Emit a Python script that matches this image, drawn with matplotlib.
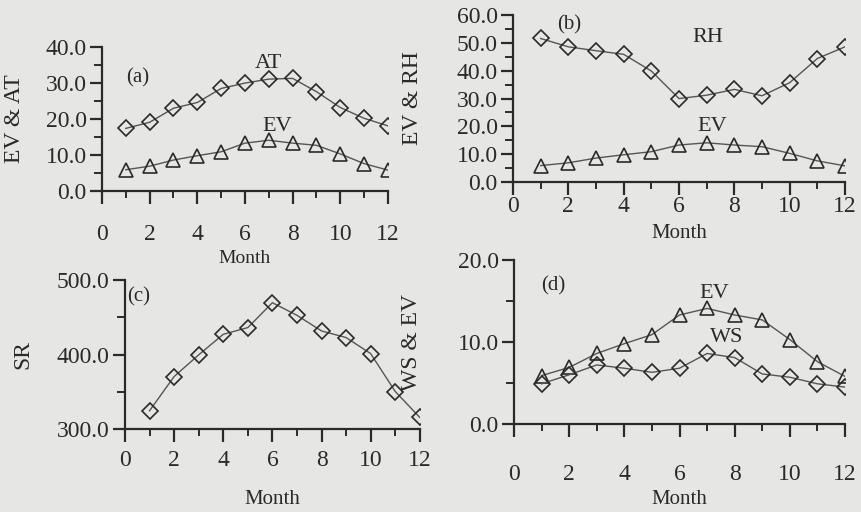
import matplotlib
matplotlib.use("Agg")
import matplotlib.pyplot as plt
from matplotlib.ticker import MultipleLocator, FormatStrFormatter

plt.rcParams['font.family'] = ['Liberation Serif', 'DejaVu Serif']

months = [1, 2, 3, 4, 5, 6, 7, 8, 9, 10, 11, 12]
ev = [5.9, 6.9, 8.6, 9.8, 10.9, 13.3, 14.1, 13.3, 12.7, 10.3, 7.6, 5.8]
at = [17.4, 19.1, 23.0, 24.6, 28.5, 30.0, 31.1, 31.3, 27.6, 23.2, 20.2, 18.1]
rh = [51.6, 48.6, 47.2, 45.9, 39.9, 30.0, 31.2, 33.3, 31.0, 35.7, 44.4, 48.6]
sr = [324.6, 370.5, 399.6, 427.2, 436.2, 469.6, 452.7, 431.7, 422.8, 401.3, 350.4, 315.6]
ws = [4.9, 6.0, 7.2, 6.8, 6.3, 6.8, 8.6, 8.1, 6.1, 5.7, 4.9, 4.5]

bg = '#e6e6e4'
ink = '#2a2a2a'
line_c = '#555555'

fig = plt.figure(figsize=(8.62, 5.12), dpi=100, facecolor=bg)

def style(ax, ylim, ymaj, ymin, xpad, ylabel, ylabx, mlab_y, mlab_size=15):
    ax.set_facecolor(bg)
    ax.set_xlim(0, 12)
    ax.set_ylim(*ylim)
    for s in ['top', 'right']:
        ax.spines[s].set_visible(False)
    for s in ['left', 'bottom']:
        ax.spines[s].set_color(ink)
        ax.spines[s].set_linewidth(1.6)
    ax.xaxis.set_major_locator(MultipleLocator(2))
    ax.xaxis.set_minor_locator(MultipleLocator(1))
    ax.yaxis.set_major_locator(MultipleLocator(ymaj))
    ax.yaxis.set_minor_locator(MultipleLocator(ymin))
    ax.yaxis.set_major_formatter(FormatStrFormatter('%.1f'))
    ax.tick_params(axis='x', which='major', direction='out', length=9, width=1.6,
                   color=ink, labelsize=17, labelcolor=ink, pad=xpad)
    ax.tick_params(axis='x', which='minor', direction='out', length=5, width=1.4, color=ink)
    ax.tick_params(axis='y', which='major', direction='out', length=9, width=1.6,
                   color=ink, labelsize=17, labelcolor=ink, pad=2)
    ax.tick_params(axis='y', which='minor', direction='out', length=6, width=1.4, color=ink)
    ax.set_ylabel(ylabel, fontsize=17, color=ink)
    ax.yaxis.set_label_coords(ylabx, 0.5)
    ax.set_xlabel('Month', fontsize=mlab_size, color=ink)
    ax.xaxis.set_label_coords(0.5, mlab_y)

mk = dict(color=line_c, lw=1.0, markerfacecolor='none', markeredgecolor=ink,
          markeredgewidth=1.2, markersize=9.5)
mkd = dict(mk, markersize=8)

# (a)
ax1 = fig.add_axes([0.1183, 0.627, 0.3318, 0.281])
ax1.plot(months, at, marker='D', **mkd)
ax1.plot(months, ev, marker='^', **mk)
style(ax1, (0, 40), 10, 5, 15, 'EV & AT', -0.27, -0.41, 14)
ax1.text(1.0, 31.5, '(a)', fontsize=15, color=ink, ha='left', va='center')
ax1.text(7.0, 35.5, 'AT', fontsize=16, color=ink, ha='center', va='center')
ax1.text(7.35, 18.0, 'EV', fontsize=16, color=ink, ha='center', va='center')

# (b)
ax2 = fig.add_axes([0.5951, 0.6445, 0.3852, 0.326])
ax2.plot(months, rh, marker='D', **mkd)
ax2.plot(months, ev, marker='^', **mk)
style(ax2, (0, 60), 10, 5, 1, 'EV & RH', -0.27, -0.25)
ax2.text(1.6, 56.5, '(b)', fontsize=15, color=ink, ha='left', va='center')
ax2.text(7.05, 52.0, 'RH', fontsize=16, color=ink, ha='center', va='center')
ax2.text(7.2, 20.0, 'EV', fontsize=16, color=ink, ha='center', va='center')

# (c)
ax3 = fig.add_axes([0.145, 0.162, 0.342, 0.291])
ax3.plot(months, sr, marker='D', **mkd)
style(ax3, (300, 500), 100, 50, 6, 'SR', -0.31, -0.41)
ax3.text(0.1, 478, '(c)', fontsize=15, color=ink, ha='left', va='center')

# (d)
ax4 = fig.add_axes([0.5963, 0.172, 0.384, 0.320])
ax4.plot(months, ev, marker='^', **mk)
ax4.plot(months, ws, marker='D', **mkd)
style(ax4, (0, 20), 10, 5, 20, 'WS & EV', -0.278, -0.405)
ax4.text(1.0, 16.8, '(d)', fontsize=15, color=ink, ha='left', va='center')
ax4.text(7.25, 15.9, 'EV', fontsize=16, color=ink, ha='center', va='center')
ax4.text(7.7, 10.5, 'WS', fontsize=16, color=ink, ha='center', va='center')

fig.savefig('out.png', dpi=100, facecolor=bg)
